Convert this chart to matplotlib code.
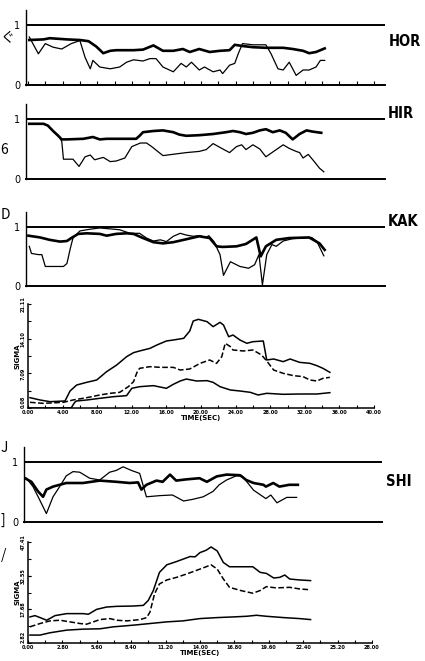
import numpy as np
import matplotlib
matplotlib.use('Agg')
import matplotlib.pyplot as plt

plt.rcParams['font.family'] = ['DejaVu Sans']

# ---------------- data ----------------
# R panels: time (s) / coherence value
hor_thick_t = [0.15, 1.8, 2.5, 4.5, 6.0, 7.0, 7.9, 8.7, 9.5, 10.2, 12.2, 13.3, 14.5, 15.6, 16.8, 17.9,
               18.7, 19.8, 21.0, 22.2, 23.3, 23.9, 24.8, 26.0, 27.5, 29.5, 30.6, 31.8, 32.5, 33.3, 34.3]
hor_thick_v = [0.75, 0.76, 0.78, 0.76, 0.75, 0.73, 0.64, 0.53, 0.57, 0.58, 0.58, 0.59, 0.66, 0.57, 0.57, 0.60,
               0.55, 0.60, 0.55, 0.57, 0.58, 0.67, 0.65, 0.63, 0.62, 0.62, 0.60, 0.57, 0.53, 0.55, 0.61]
hor_thin_t = [0.15, 0.6, 1.2, 2.0, 2.9, 3.9, 5.0, 6.0, 6.6, 7.2, 7.5, 8.3, 9.5, 10.6, 11.4, 12.2, 13.3, 14.1,
              14.8, 15.6, 16.8, 17.7, 18.3, 18.9, 19.8, 20.4, 21.4, 22.2, 22.5, 23.3, 23.9, 24.3, 24.8, 26.0,
              27.5, 28.1, 28.9, 29.5, 30.2, 31.0, 31.8, 32.5, 33.3, 33.8, 34.3]
hor_thin_v = [0.80, 0.68, 0.52, 0.69, 0.63, 0.60, 0.69, 0.74, 0.46, 0.27, 0.41, 0.30, 0.27, 0.30, 0.38, 0.42,
              0.40, 0.44, 0.44, 0.30, 0.22, 0.36, 0.30, 0.38, 0.25, 0.30, 0.22, 0.25, 0.19, 0.33, 0.36, 0.52,
              0.69, 0.67, 0.67, 0.52, 0.27, 0.25, 0.38, 0.16, 0.25, 0.25, 0.30, 0.41, 0.41]

hir_thick_t = [0.15, 1.8, 2.3, 2.9, 3.5, 3.9, 4.5, 6.4, 7.5, 8.3, 9.1, 10.2, 11.4, 12.5, 12.9, 13.3, 14.5,
               15.6, 16.8, 17.5, 18.3, 19.8, 21.4, 22.9, 23.7, 24.5, 25.2, 26.0, 26.8, 27.5, 28.3, 29.1,
               29.8, 30.6, 31.4, 32.2, 32.9, 33.9]
hir_thick_v = [0.92, 0.92, 0.89, 0.80, 0.72, 0.66, 0.66, 0.67, 0.70, 0.66, 0.67, 0.67, 0.67, 0.67, 0.72, 0.78,
               0.80, 0.81, 0.78, 0.74, 0.72, 0.73, 0.75, 0.78, 0.80, 0.78, 0.75, 0.77, 0.81, 0.83, 0.78, 0.81,
               0.77, 0.66, 0.75, 0.81, 0.79, 0.77]
hir_thin_t = [0.15, 1.8, 2.3, 2.9, 3.5, 3.9, 4.1, 5.2, 5.9, 6.6, 7.2, 7.7, 8.7, 9.5, 10.2, 11.2, 12.0, 13.0,
              13.7, 14.3, 15.6, 18.3, 19.8, 20.6, 21.4, 22.4, 23.3, 24.1, 24.7, 25.2, 26.0, 26.8, 27.5, 28.7,
              29.5, 30.2, 31.0, 31.4, 31.8, 32.4, 33.1, 33.7, 34.2]
hir_thin_v = [0.92, 0.92, 0.89, 0.80, 0.72, 0.63, 0.33, 0.33, 0.21, 0.37, 0.40, 0.32, 0.36, 0.29, 0.30, 0.35,
              0.54, 0.60, 0.60, 0.54, 0.39, 0.44, 0.46, 0.49, 0.59, 0.51, 0.44, 0.54, 0.57, 0.49, 0.57, 0.50,
              0.37, 0.49, 0.57, 0.51, 0.46, 0.44, 0.35, 0.41, 0.29, 0.18, 0.12]

kak_thick_t = [0.05, 1.4, 2.5, 3.7, 4.5, 5.0, 5.8, 6.8, 8.3, 9.1, 10.2, 11.4, 12.2, 13.3, 14.5, 15.6, 16.8,
               18.3, 19.8, 21.0, 21.8, 22.5, 24.1, 25.2, 26.4, 26.9, 27.5, 28.7, 30.2, 32.5, 33.7, 34.3]
kak_thick_v = [0.85, 0.82, 0.78, 0.75, 0.76, 0.81, 0.88, 0.89, 0.88, 0.85, 0.88, 0.89, 0.88, 0.81, 0.74,
               0.72, 0.74, 0.79, 0.84, 0.81, 0.67, 0.66, 0.67, 0.71, 0.82, 0.50, 0.67, 0.78, 0.81, 0.82, 0.72, 0.61]
kak_thin_t = [0.15, 0.4, 1.2, 1.6, 2.0, 2.9, 4.1, 4.5, 4.9, 5.2, 6.0, 7.2, 8.3, 9.9, 10.6, 11.8, 12.9, 13.7,
              14.5, 15.3, 16.0, 16.8, 17.6, 18.3, 19.1, 19.8, 20.6, 20.9, 21.5, 22.2, 22.6, 23.4, 24.5, 25.5,
              26.2, 26.7, 27.1, 27.6, 28.2, 28.7, 29.5, 30.6, 32.8, 33.4, 34.2]
kak_thin_v = [0.67, 0.55, 0.53, 0.53, 0.33, 0.33, 0.33, 0.38, 0.64, 0.81, 0.93, 0.96, 0.98, 0.96, 0.95, 0.89,
              0.89, 0.81, 0.76, 0.78, 0.75, 0.84, 0.89, 0.86, 0.84, 0.85, 0.82, 0.85, 0.75, 0.53, 0.18, 0.41,
              0.33, 0.30, 0.36, 0.53, 0.02, 0.53, 0.70, 0.67, 0.76, 0.80, 0.82, 0.75, 0.51]

shi_thick_t = [0.0, 0.52, 1.06, 1.47, 1.74, 2.28, 3.36, 4.72, 6.08, 7.43, 8.52, 9.20, 9.47, 9.88, 10.7, 11.2,
               11.8, 12.3, 13.1, 14.2, 14.8, 15.6, 16.4, 17.5, 18.0, 18.6, 19.4, 19.6, 20.2, 20.7, 21.5, 22.2]
shi_thick_v = [0.73, 0.67, 0.51, 0.42, 0.54, 0.59, 0.65, 0.65, 0.69, 0.67, 0.65, 0.66, 0.54, 0.62, 0.69,
               0.67, 0.79, 0.69, 0.71, 0.73, 0.67, 0.76, 0.79, 0.78, 0.70, 0.65, 0.62, 0.59, 0.65, 0.59, 0.62, 0.62]
shi_thin_t = [0.11, 0.65, 1.19, 1.74, 2.28, 2.82, 3.36, 3.91, 4.45, 5.26, 6.08, 6.89, 7.43, 7.98, 8.65, 9.33,
              9.88, 11.0, 12.0, 12.9, 13.7, 14.5, 15.3, 15.8, 16.4, 17.2, 17.7, 18.6, 19.6, 20.0, 20.5, 21.3, 22.1]
shi_thin_v = [0.73, 0.59, 0.37, 0.14, 0.42, 0.59, 0.77, 0.84, 0.83, 0.73, 0.70, 0.83, 0.86, 0.92, 0.86, 0.81,
              0.42, 0.44, 0.45, 0.35, 0.38, 0.42, 0.51, 0.62, 0.70, 0.77, 0.76, 0.53, 0.39, 0.45, 0.32, 0.41, 0.41]

# SIGMA panel 1 (time up to 40 s)
s1_up_t = [0.23, 1.39, 2.54, 4.28, 4.86, 5.63, 6.78, 7.94, 9.09, 10.25, 11.4, 12.2, 12.9, 14.1, 14.9, 16.0,
           16.8, 18.0, 18.7, 19.1, 19.7, 20.7, 21.4, 22.2, 22.6, 23.2, 23.7, 24.5, 25.3, 26.0, 27.2, 27.6,
           28.4, 29.5, 30.3, 31.4, 32.6, 33.4, 34.1, 34.9]
s1_up_v = [2.17, 1.70, 1.36, 1.50, 3.52, 4.73, 5.27, 5.74, 7.43, 8.77, 10.46, 11.27, 11.61, 12.14, 12.82, 13.63,
           13.83, 14.17, 15.65, 17.67, 18.01, 17.54, 16.53, 17.40, 16.86, 14.50, 14.84, 13.83, 13.16, 13.49,
           13.63, 9.79, 9.99, 9.45, 9.99, 9.31, 9.11, 8.64, 8.10, 7.29]
s1_mid_t = [0.23, 1.77, 4.1, 5.2, 6.8, 8.3, 9.5, 10.6, 11.6, 12.2, 12.6, 12.9, 14.1, 15.3, 16.8, 17.6, 18.7,
            19.9, 21.0, 21.8, 22.4, 22.8, 23.4, 23.7, 24.9, 26.0, 27.0, 27.6, 28.4, 29.5, 30.7, 31.8, 32.6,
            33.4, 34.1, 34.9]
s1_mid_v = [1.23, 1.02, 1.23, 1.70, 2.17, 2.71, 3.05, 3.25, 4.39, 5.40, 7.29, 8.10, 8.44, 8.30, 8.30, 7.76,
            7.97, 9.11, 9.79, 9.11, 10.46, 13.16, 12.48, 11.81, 11.61, 11.81, 10.80, 9.58, 7.76, 7.09, 6.62,
            6.42, 5.74, 5.54, 6.08, 6.28]
s1_low_t = [0.0, 2.5, 5.0, 5.4, 5.6, 6.8, 8.3, 9.9, 11.4, 12.0, 12.9, 14.5, 16.0, 16.8, 17.6, 18.3, 19.5,
            20.7, 21.4, 22.2, 23.4, 24.5, 25.7, 26.6, 27.6, 29.5, 31.4, 33.4, 34.9]
s1_low_v = [0.08, 0.08, 0.12, 1.23, 1.50, 1.70, 2.04, 2.37, 2.58, 4.06, 4.39, 4.60, 4.06, 4.87, 5.54, 5.94,
            5.54, 5.61, 5.27, 4.39, 3.72, 3.52, 3.25, 2.71, 3.05, 2.85, 2.91, 2.91, 3.18]

# SIGMA panel 2 (time up to 28 s)
s2_up_t = [0.16, 0.57, 0.98, 1.52, 2.20, 3.15, 4.50, 4.91, 5.59, 6.40, 7.22, 8.57, 9.39, 9.79, 10.2, 10.7,
           11.3, 12.1, 12.6, 13.2, 13.6, 14.0, 14.5, 14.9, 15.4, 15.9, 16.4, 17.3, 18.3, 18.9, 19.4, 20.0,
           20.5, 20.9, 21.3, 22.1, 23.0]
s2_up_v = [14.33, 14.91, 14.04, 12.87, 14.91, 15.79, 15.79, 15.50, 17.68, 18.70, 19.00, 19.14, 19.43, 21.62,
           25.99, 34.00, 37.35, 38.80, 39.80, 41.00, 40.85, 42.74, 43.76, 45.22, 43.47, 38.37, 36.48, 36.48,
           36.48, 34.00, 33.56, 31.52, 31.81, 32.83, 31.07, 30.65, 30.36]
s2_mid_t = [0.16, 0.98, 1.79, 2.60, 3.42, 4.23, 4.77, 5.32, 5.86, 6.67, 7.22, 8.03, 9.12, 9.66, 9.93, 10.3,
            10.7, 11.3, 12.1, 12.9, 14.0, 14.5, 14.9, 15.4, 15.9, 16.4, 17.3, 18.3, 18.9, 19.4, 20.2, 21.3,
            22.1, 23.0]
s2_mid_v = [9.96, 11.42, 12.58, 12.87, 12.15, 11.42, 11.12, 12.15, 13.16, 13.60, 12.87, 12.58, 13.16, 14.04,
            16.52, 24.53, 28.90, 30.65, 31.81, 33.27, 35.46, 36.48, 37.35, 35.46, 31.10, 27.40, 26.00, 24.80,
            26.00, 27.70, 27.15, 27.40, 26.70, 26.30]
s2_low_t = [0.16, 0.98, 1.79, 3.15, 4.50, 5.86, 6.95, 8.57, 9.93, 11.3, 12.6, 14.0, 15.4, 16.7, 17.8, 18.6,
            19.4, 20.8, 22.1, 23.0]
s2_low_v = [6.32, 6.32, 7.34, 8.50, 8.94, 9.09, 9.96, 10.69, 11.42, 12.15, 12.58, 13.60, 14.04, 14.33, 14.62,
            15.06, 14.62, 14.04, 13.60, 13.16]

s1_yticks = [0.08, 7.09, 14.10, 21.11]
s1_xticks = [0, 4, 8, 12, 16, 20, 24, 28, 32, 36, 40]
s2_yticks = [2.82, 17.68, 32.55, 47.41]
s2_xticks = [0, 2.8, 5.6, 8.4, 11.2, 14.0, 16.8, 19.6, 22.4, 25.2, 28.0]

W, H = 425, 661
fig = plt.figure(figsize=(W / 100, H / 100), dpi=100)


def box(l, r, top, bot):
    # pixel box -> figure fraction rect
    return [l / W, 1 - bot / H, (r - l) / W, (bot - top) / H]


def rpanel(rect, xl, t1, v1, t2, v2, name, name_x, name_y, ticks=False):
    ax = fig.add_axes(rect)
    ax.set_xlim(xl)
    ax.set_ylim(0, 1.25)
    for s in ['top', 'right']:
        ax.spines[s].set_visible(False)
    ax.spines['left'].set_linewidth(1.0)
    ax.spines['bottom'].set_linewidth(1.4)
    ax.axhline(1.0, color='k', lw=1.4)
    ax.plot(t1, v1, 'k-', lw=1.9, solid_joinstyle='round')
    ax.plot(t2, v2, 'k-', lw=0.9)
    ax.set_yticks([0, 1])
    ax.set_yticklabels(['0', '1'], fontsize=7)
    ax.tick_params(axis='y', length=0, pad=4)
    if ticks:
        ax.set_xticks(np.arange(0, 41, 2))
        ax.tick_params(axis='x', direction='in', length=3, width=0.8, labelbottom=False)
    else:
        ax.set_xticks([])
    fig.text(name_x / W, 1 - name_y / H, name, fontsize=10.5, fontweight='bold',
             fontstretch='condensed', va='center', ha='left')
    return ax


def spanel(rect, xl, yl, xt, yt, lines):
    ax = fig.add_axes(rect)
    ax.set_xlim(xl)
    ax.set_ylim(yl)
    for s in ['top', 'right']:
        ax.spines[s].set_visible(False)
    for s in ['left', 'bottom']:
        ax.spines[s].set_linewidth(1.1)
    for t, v, ls in lines:
        ax.plot(t, v, color='k', ls=ls, lw=1.1)
    ax.set_xticks(xt)
    ax.set_xticklabels(['%.2f' % x for x in xt], fontsize=3.6, fontweight='bold')
    ax.set_xticks(np.arange(xl[0], xl[1] + 0.01, xt[1] / 2), minor=True)
    ax.set_yticks(yt)
    ylabs = ax.set_yticklabels(['%.2f' % y for y in yt], fontsize=3.6, fontweight='bold',
                               rotation=90, va='center')
    ylabs[0].set_va('bottom')
    ax.set_yticks(np.linspace(yl[0], yl[1], 7), minor=True)
    ax.tick_params(which='both', direction='in', length=2.5, width=0.8, pad=1.5)
    ax.set_xlabel('TIME(SEC)', fontsize=5, fontweight='bold', labelpad=0)
    ax.set_ylabel('SIGMA', fontsize=5, fontweight='bold', labelpad=0)
    return ax


xl40 = (-2 / 8.65, 357 / 8.65)
rpanel(box(26, 385, 10, 85), xl40, hor_thick_t, hor_thick_v, hor_thin_t, hor_thin_v, 'HOR', 389, 42, ticks=True)
rpanel(box(26, 385, 104, 179), xl40, hir_thick_t, hir_thick_v, hir_thin_t, hir_thin_v, 'HIR', 388, 114)
rpanel(box(26, 385, 212, 286), xl40, kak_thick_t, kak_thick_v, kak_thin_t, kak_thin_v, 'KAK', 388, 222)
rpanel(box(24, 382, 447, 522), (-1 / 12.29, 357 / 12.29), shi_thick_t, shi_thick_v,
       shi_thin_t, shi_thin_v, 'SHI', 386, 481)

spanel(box(28, 374, 304, 408), (0, 40), (0.08, 21.11), s1_xticks, s1_yticks,
       [(s1_up_t, s1_up_v, '-'), (s1_mid_t, s1_mid_v, '--'), (s1_low_t, s1_low_v, '-')])
spanel(box(28, 372, 542, 643), (0, 28), (2.82, 47.41), s2_xticks, s2_yticks,
       [(s2_up_t, s2_up_v, '-'), (s2_mid_t, s2_mid_v, '--'), (s2_low_t, s2_low_v, '-')])

# fragments of neighbouring text at the left edge
for ch, y in [('\u3050', 38), ('6', 150), ('D', 215), ('J', 448), (']', 520), ('/', 555)]:
    fig.text(0.5 / W, 1 - y / H, ch, fontsize=10, va='center', ha='left',
             family=['Noto Sans CJK JP', 'DejaVu Sans'])

fig.savefig('out.png', dpi=100)
